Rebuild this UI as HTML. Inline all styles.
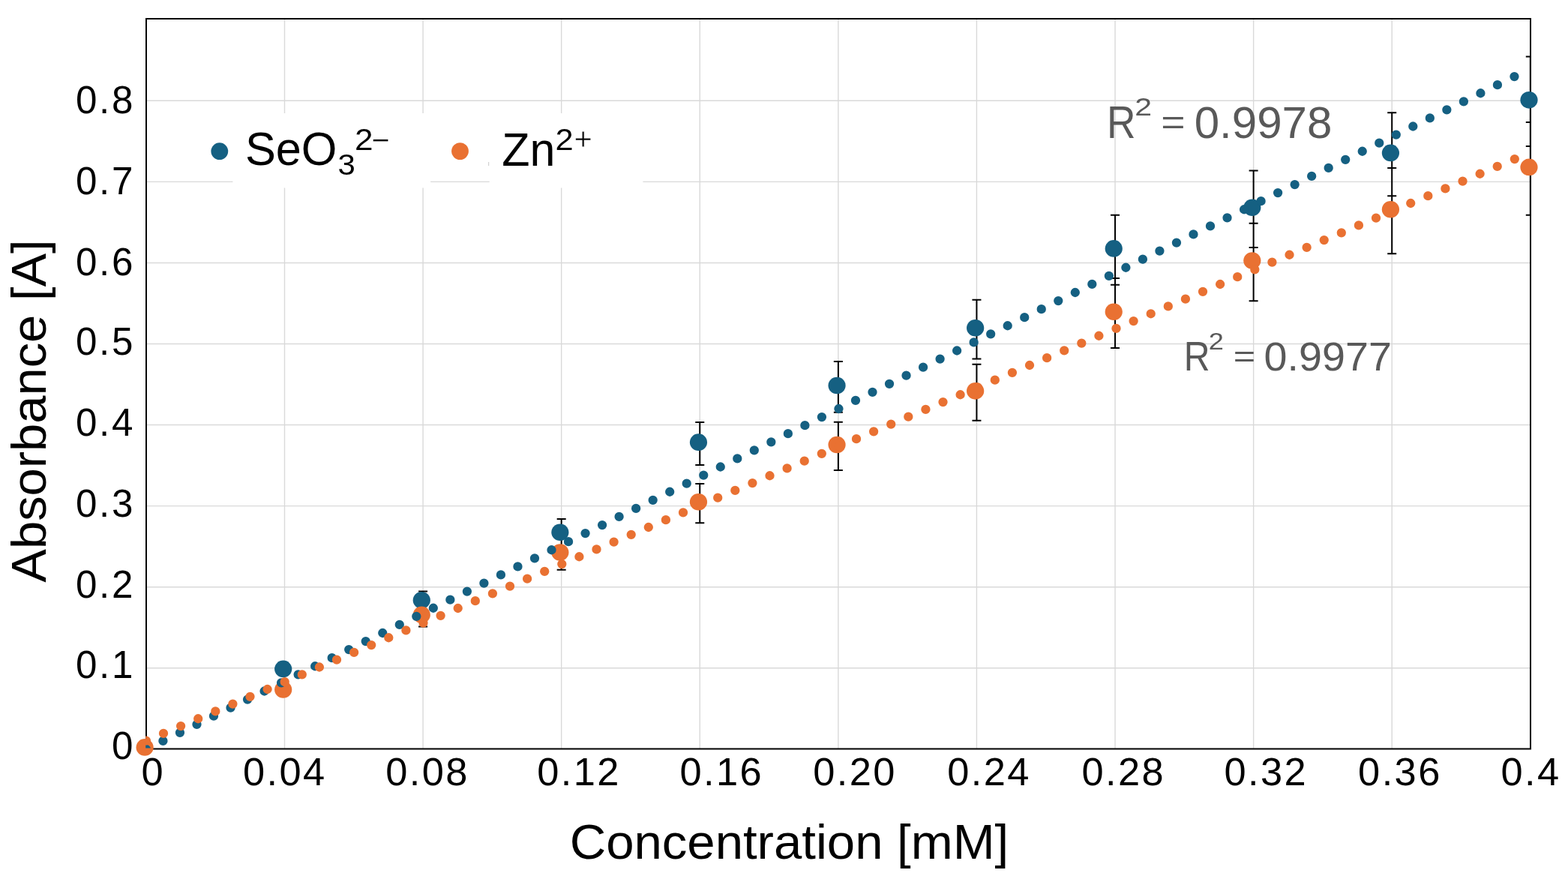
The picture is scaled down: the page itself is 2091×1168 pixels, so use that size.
<!DOCTYPE html>
<html><head><meta charset="utf-8"><style>
html,body{margin:0;padding:0;background:#fff;}
svg{display:block;}
text{font-family:"Liberation Sans",Arial,sans-serif;}
</style></head><body>
<svg width="2091" height="1168" viewBox="0 0 2091 1168">
<rect width="2091" height="1168" fill="#fff"/>
<line x1="195" y1="890.74" x2="2041" y2="890.74" stroke="#D9D9D9" stroke-width="1.4"/>
<line x1="195" y1="782.68" x2="2041" y2="782.68" stroke="#D9D9D9" stroke-width="1.4"/>
<line x1="195" y1="674.62" x2="2041" y2="674.62" stroke="#D9D9D9" stroke-width="1.4"/>
<line x1="195" y1="566.56" x2="2041" y2="566.56" stroke="#D9D9D9" stroke-width="1.4"/>
<line x1="195" y1="458.50" x2="2041" y2="458.50" stroke="#D9D9D9" stroke-width="1.4"/>
<line x1="195" y1="350.44" x2="2041" y2="350.44" stroke="#D9D9D9" stroke-width="1.4"/>
<line x1="195" y1="242.38" x2="2041" y2="242.38" stroke="#D9D9D9" stroke-width="1.4"/>
<line x1="195" y1="134.32" x2="2041" y2="134.32" stroke="#D9D9D9" stroke-width="1.4"/>
<line x1="379.49" y1="25" x2="379.49" y2="998.5" stroke="#D9D9D9" stroke-width="1.4"/>
<line x1="564.08" y1="25" x2="564.08" y2="998.5" stroke="#D9D9D9" stroke-width="1.4"/>
<line x1="748.67" y1="25" x2="748.67" y2="998.5" stroke="#D9D9D9" stroke-width="1.4"/>
<line x1="933.26" y1="25" x2="933.26" y2="998.5" stroke="#D9D9D9" stroke-width="1.4"/>
<line x1="1117.85" y1="25" x2="1117.85" y2="998.5" stroke="#D9D9D9" stroke-width="1.4"/>
<line x1="1302.44" y1="25" x2="1302.44" y2="998.5" stroke="#D9D9D9" stroke-width="1.4"/>
<line x1="1487.03" y1="25" x2="1487.03" y2="998.5" stroke="#D9D9D9" stroke-width="1.4"/>
<line x1="1671.62" y1="25" x2="1671.62" y2="998.5" stroke="#D9D9D9" stroke-width="1.4"/>
<line x1="1856.21" y1="25" x2="1856.21" y2="998.5" stroke="#D9D9D9" stroke-width="1.4"/>
<rect x="310.4" y="151" width="263.8" height="99.5" fill="#fff"/>
<rect x="652.7" y="151" width="204.7" height="99.5" fill="#fff"/>
<line x1="651.7" y1="216" x2="651.7" y2="221.1" stroke="#c8c8c8" stroke-width="1"/>
<rect x="195" y="25" width="1846" height="973.5" fill="none" stroke="#000" stroke-width="2"/>
<defs><clipPath id="pa"><rect x="194.2" y="25" width="1846.3" height="972.4"/></clipPath></defs>
<path d="M564.08 788.50V815.70M558.08 788.50h12M558.08 815.70h12M748.67 691.90V731.50M742.67 691.90h12M742.67 731.50h12M933.26 563.00V620.10M927.26 563.00h12M927.26 620.10h12M1117.85 482.10V549.70M1111.85 482.10h12M1111.85 549.70h12M1302.44 399.70V478.60M1296.44 399.70h12M1296.44 478.60h12M1487.03 286.80V379.80M1481.03 286.80h12M1481.03 379.80h12M1671.62 227.50V329.90M1665.62 227.50h12M1665.62 329.90h12M1856.21 150.30V261.30M1850.21 150.30h12M1850.21 261.30h12M2040.80 75.60V194.90M2034.80 75.60h12M2034.80 194.90h12M564.08 807.80V835.40M558.08 807.80h12M558.08 835.40h12M748.67 717.10V759.70M742.67 717.10h12M742.67 759.70h12M933.26 644.90V697.30M927.26 644.90h12M927.26 697.30h12M1117.85 562.70V627.10M1111.85 562.70h12M1111.85 627.10h12M1302.44 485.80V560.70M1296.44 485.80h12M1296.44 560.70h12M1487.03 371.10V464.10M1481.03 371.10h12M1481.03 464.10h12M1671.62 297.70V401.30M1665.62 297.70h12M1665.62 401.30h12M1856.21 223.90V338.30M1850.21 223.90h12M1850.21 338.30h12M2040.80 162.90V286.70M2034.80 162.90h12M2034.80 286.70h12" stroke="#000" stroke-width="2" fill="none" clip-path="url(#pa)"/>
<ellipse cx="377.69" cy="891.90" rx="11.6" ry="11.3" fill="#156082"/>
<ellipse cx="562.28" cy="800.20" rx="11.6" ry="11.3" fill="#156082"/>
<ellipse cx="746.87" cy="709.80" rx="11.6" ry="11.3" fill="#156082"/>
<ellipse cx="931.46" cy="589.65" rx="11.6" ry="11.3" fill="#156082"/>
<ellipse cx="1116.05" cy="514.00" rx="11.6" ry="11.3" fill="#156082"/>
<ellipse cx="1300.64" cy="437.25" rx="11.6" ry="11.3" fill="#156082"/>
<ellipse cx="1485.23" cy="331.40" rx="11.6" ry="11.3" fill="#156082"/>
<ellipse cx="1669.82" cy="276.80" rx="11.6" ry="11.3" fill="#156082"/>
<ellipse cx="1854.41" cy="203.90" rx="11.6" ry="11.3" fill="#156082"/>
<ellipse cx="2039.00" cy="133.35" rx="11.6" ry="11.3" fill="#156082"/>
<ellipse cx="193.10" cy="996.40" rx="11.6" ry="11.3" fill="#E97132"/>
<ellipse cx="377.69" cy="919.40" rx="11.6" ry="11.3" fill="#E97132"/>
<ellipse cx="562.28" cy="819.70" rx="11.6" ry="11.3" fill="#E97132"/>
<ellipse cx="746.87" cy="736.50" rx="11.6" ry="11.3" fill="#E97132"/>
<ellipse cx="931.46" cy="669.20" rx="11.6" ry="11.3" fill="#E97132"/>
<ellipse cx="1116.05" cy="593.00" rx="11.6" ry="11.3" fill="#E97132"/>
<ellipse cx="1300.64" cy="521.35" rx="11.6" ry="11.3" fill="#E97132"/>
<ellipse cx="1485.23" cy="415.70" rx="11.6" ry="11.3" fill="#E97132"/>
<ellipse cx="1669.82" cy="347.60" rx="11.6" ry="11.3" fill="#E97132"/>
<ellipse cx="1854.41" cy="279.20" rx="11.6" ry="11.3" fill="#E97132"/>
<ellipse cx="2039.00" cy="222.90" rx="11.6" ry="11.3" fill="#E97132"/>
<line x1="194.9" y1="999.00" x2="2040.8" y2="91.59" stroke="#156082" stroke-width="12.3" stroke-linecap="round" stroke-dasharray="0 25.1" clip-path="url(#pa)"/>
<line x1="194.9" y1="987.70" x2="2040.8" y2="203.19" stroke="#E97132" stroke-width="12.3" stroke-linecap="round" stroke-dasharray="0 25.1" clip-path="url(#pa)"/>
<text x="100.90" y="151.00" font-size="51.13" fill="#000" textLength="76.42" lengthAdjust="spacing" >0.8</text>
<text x="100.90" y="259.25" font-size="51.13" fill="#000" textLength="76.42" lengthAdjust="spacing" >0.7</text>
<text x="100.90" y="366.55" font-size="51.13" fill="#000" textLength="76.42" lengthAdjust="spacing" >0.6</text>
<text x="100.90" y="473.10" font-size="51.13" fill="#000" textLength="76.42" lengthAdjust="spacing" >0.5</text>
<text x="100.90" y="581.15" font-size="51.13" fill="#000" textLength="76.42" lengthAdjust="spacing" >0.4</text>
<text x="100.90" y="688.95" font-size="51.13" fill="#000" textLength="76.42" lengthAdjust="spacing" >0.3</text>
<text x="100.90" y="796.75" font-size="51.13" fill="#000" textLength="76.42" lengthAdjust="spacing" >0.2</text>
<text x="100.90" y="904.35" font-size="51.13" fill="#000" textLength="76.42" lengthAdjust="spacing" >0.1</text>
<text x="148.89" y="1011.95" font-size="51.13" fill="#000" >0</text>
<text x="188.48" y="1047.09" font-size="52.40" fill="#000" >0</text>
<text x="324.05" y="1047.09" font-size="52.40" fill="#000" textLength="109.18" lengthAdjust="spacing" >0.04</text>
<text x="514.17" y="1047.09" font-size="52.40" fill="#000" textLength="109.18" lengthAdjust="spacing" >0.08</text>
<text x="716.20" y="1047.09" font-size="52.40" fill="#000" textLength="109.18" lengthAdjust="spacing" >0.12</text>
<text x="906.39" y="1047.09" font-size="52.40" fill="#000" textLength="109.18" lengthAdjust="spacing" >0.16</text>
<text x="1084.31" y="1047.09" font-size="52.40" fill="#000" textLength="109.18" lengthAdjust="spacing" >0.20</text>
<text x="1263.25" y="1047.09" font-size="52.40" fill="#000" textLength="109.18" lengthAdjust="spacing" >0.24</text>
<text x="1442.52" y="1047.09" font-size="52.40" fill="#000" textLength="109.18" lengthAdjust="spacing" >0.28</text>
<text x="1632.50" y="1047.09" font-size="52.40" fill="#000" textLength="109.18" lengthAdjust="spacing" >0.32</text>
<text x="1811.09" y="1047.09" font-size="52.40" fill="#000" textLength="109.18" lengthAdjust="spacing" >0.36</text>
<text x="2001.52" y="1047.09" font-size="52.40" fill="#000" textLength="77.64" lengthAdjust="spacing" >0.4</text>
<text x="759.69" y="1145.06" font-size="65.23" fill="#000" textLength="585.49" lengthAdjust="spacingAndGlyphs" >Concentration [mM]</text>
<text transform="translate(60.96,776.63) rotate(-90)" x="0" y="0" font-size="65.23" textLength="457.30" lengthAdjust="spacingAndGlyphs">Absorbance [A]</text>
<circle cx="292.8" cy="201.7" r="11.4" fill="#156082"/>
<circle cx="613.5" cy="201.6" r="11.4" fill="#E97132"/>
<text x="326.92" y="220.28" font-size="63.13" fill="#000" textLength="122.61" lengthAdjust="spacingAndGlyphs" >SeO</text>
<text x="450.60" y="233.01" font-size="39.55" fill="#000" textLength="23.34" lengthAdjust="spacingAndGlyphs" >3</text>
<text x="472.98" y="199.80" font-size="40.96" fill="#000" textLength="24.54" lengthAdjust="spacingAndGlyphs" >2</text>
<text x="495.42" y="201.46" font-size="41.68" fill="#000" stroke="#fff" stroke-width="0.45">−</text>
<text x="669.36" y="220.50" font-size="62.65" fill="#000" textLength="71.20" lengthAdjust="spacingAndGlyphs" >Zn</text>
<text x="740.41" y="199.50" font-size="40.24" fill="#000" textLength="24.17" lengthAdjust="spacingAndGlyphs" >2</text>
<text x="765.13" y="200.30" font-size="42.40" fill="#000" stroke="#fff" stroke-width="0.8">+</text>
<text x="1475.92" y="184.20" font-size="60.18" fill="#595959" textLength="38.56" lengthAdjust="spacingAndGlyphs" >R</text>
<text x="1513.24" y="154.10" font-size="33.66" fill="#595959" textLength="22.83" lengthAdjust="spacingAndGlyphs" >2</text>
<text x="1548.30" y="178.81" font-size="45.30" fill="#595959" textLength="32.33" lengthAdjust="spacingAndGlyphs" >=</text>
<text x="1592.65" y="184.42" font-size="59.60" fill="#595959" textLength="183.76" lengthAdjust="spacingAndGlyphs" >0.9978</text>
<text x="1578.75" y="493.50" font-size="54.94" fill="#595959" textLength="34.79" lengthAdjust="spacingAndGlyphs" >R</text>
<text x="1611.78" y="466.40" font-size="31.94" fill="#595959" textLength="20.14" lengthAdjust="spacingAndGlyphs" >2</text>
<text x="1644.74" y="488.78" font-size="40.34" fill="#595959" textLength="29.45" lengthAdjust="spacingAndGlyphs" >=</text>
<text x="1685.63" y="493.67" font-size="54.38" fill="#595959" textLength="170.27" lengthAdjust="spacingAndGlyphs" >0.9977</text>
</svg>
</body></html>
